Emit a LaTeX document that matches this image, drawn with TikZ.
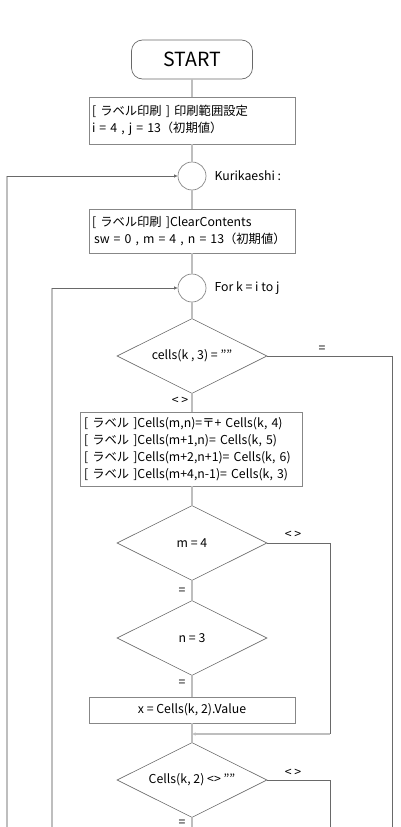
\documentclass[tikz,border=0pt]{standalone}
\usepackage{fontspec}
\setmainfont{Noto Sans CJK JP}
\usetikzlibrary{arrows.meta,shapes.geometric}
\definecolor{FlowLine}{RGB}{190,190,190}
\definecolor{FlowDark}{RGB}{105,105,105}
\definecolor{FlowEdge}{RGB}{135,135,135}

\begin{document}
\begin{tikzpicture}[x=1pt,y=-1pt,font=\fontsize{12.3}{17}\selectfont,
    procbox/.style={draw=FlowEdge,line width=0.7pt,align=left,inner sep=0pt},
    decision/.style={draw=FlowDark,line width=0.6pt,diamond,aspect=2,inner sep=0pt,
      minimum width=150pt,minimum height=75pt},
    joint/.style={draw=FlowEdge,line width=0.7pt,circle,inner sep=0pt,minimum size=28pt},
    trunk/.style={FlowLine,line width=1.8pt},
    side/.style={FlowDark,line width=0.7pt},
    tip/.style={-{Latex[length=3.5pt,width=3.5pt]}}]
        \useasboundingbox (0,0) rectangle (400,827);

        \node[draw=FlowDark,line width=0.7pt,rounded corners=11pt,minimum width=121pt,minimum height=39pt,
          font=\fontsize{19.5}{22}\selectfont]
          (start) at (192,59.5) {START};
        \node[procbox,minimum width=206pt,minimum height=47pt,text width=200pt]
          (init) at (192,120.5) {{[} ラベル印刷 ] 印刷範囲設定\\i = 4 , j = 13（初期値）};
        \node[joint] (kuri) at (192,176) {};
        \node[anchor=west] (kurilbl) at (211,176) {Kurikaeshi :};
        \node[procbox,minimum width=206pt,minimum height=44pt,text width=200pt]
          (clear) at (192,231) {{[} ラベル印刷 ]ClearContents\\\mbox{\hspace*{2pt}sw = 0 , m = 4 , n = 13（初期値）}};
        \node[joint] (fork) at (192,288) {};
        \node[anchor=west] (forlbl) at (211,288) {For k = i to j};

        \node[decision] (blank) at (192,356) {cells(k , 3) = ""};
        \node[procbox,minimum width=222pt,minimum height=74pt,text width=214pt]
          (cells) at (191,449) {\mbox{{[} ラベル ]Cells(m,n)=〒+ Cells(k, 4)}\\
            \mbox{{[} ラベル ]Cells(m+1,n)= Cells(k, 5)}\\
            \mbox{{[} ラベル ]Cells(m+2,n+1)= Cells(k, 6)}\\
            \mbox{{[} ラベル ]Cells(m+4,n-1)= Cells(k, 3)}};
        \node[decision] (mchk) at (192,543) {m = 4};
        \node[decision] (nchk) at (192,638) {n = 3};
        \node[procbox,minimum width=206pt,minimum height=26pt,align=center]
          (xval) at (192,710) {x = Cells(k, 2).Value};
        \node[decision] (xchk) at (192,780) {Cells(k, 2) <> ""};

        % main trunk
        \draw[trunk] (start.south) -- (init.north);
        \draw[trunk] (init.south) -- (kuri.north);
        \draw[trunk] (kuri.south) -- (clear.north);
        \draw[trunk] (clear.south) -- (fork.north);
        \draw[trunk] (fork.south) -- (blank.north);
        \draw[trunk] (blank.south) -- (cells.north -| blank.south);
        \draw[trunk] (cells.south -| mchk.north) -- (mchk.north);
        \draw[trunk] (mchk.south) -- (nchk.north);
        \draw[trunk] (nchk.south) -- (xval.north);
        \draw[trunk] (xval.south) -- (xchk.north);
        \coordinate (bottom) at (192,827);
        \draw[trunk] (xchk.south) -- (bottom);

        \node (ne1) at (180,401) {< >};
        \node (eq1) at (182,591) {=};
        \node (eq2) at (182,683) {=};
        \node (eq3) at (182,823) {=};

        % loops back on the left
        \coordinate (outer) at (7,827);
        \coordinate (inner) at (52,827);
        \draw[trunk] (outer) -- (7,176);
        \draw[side,tip] (7,176) -- (kuri.west);
        \draw[trunk] (inner) -- (52,288);
        \draw[side,tip] (52,288) -- (fork.west);

        % branches on the right
        \draw[side] (blank.east) -- (392,356) -- (392,827);
        \node (eqr) at (322,349) {=};
        \draw[side] (mchk.east) -- (330,543) -- (330,734);
        \node (ner1) at (293,535) {< >};
        \coordinate (join) at (192,734);
        \draw[trunk,tip] (330,734) -- (join);
        \draw[side] (xchk.east) -- (330,780) -- (330,827);
        \node (ner2) at (293,773) {< >};
      \end{tikzpicture}
\end{document}
